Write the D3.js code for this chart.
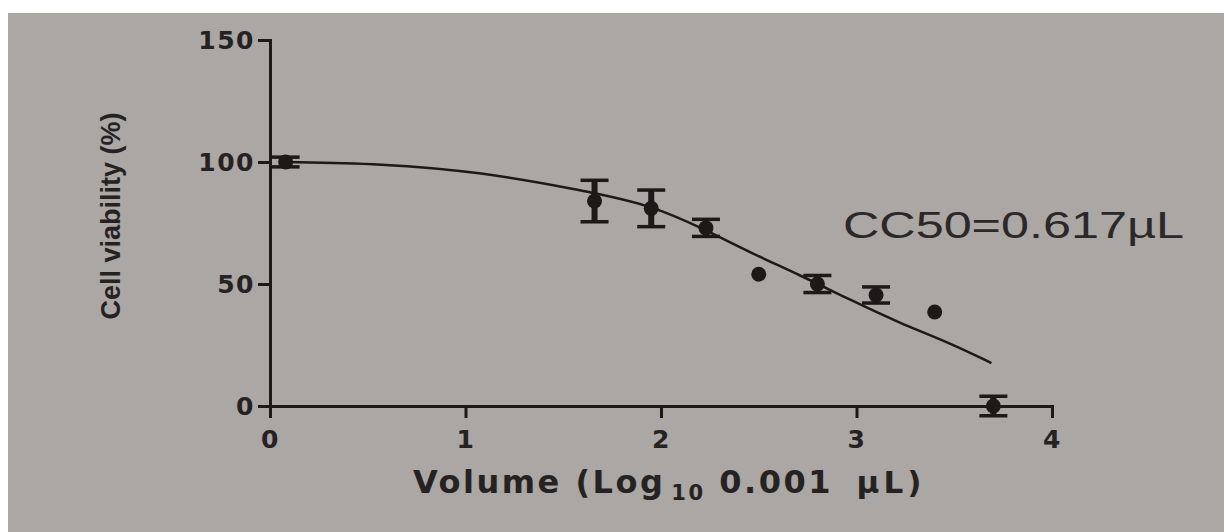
<!DOCTYPE html>
<html>
<head>
<meta charset="utf-8">
<script src="https://cdn.jsdelivr.net/npm/d3@7"></script>
<style>
  html, body { margin: 0; padding: 0; background: #ffffff; }
  svg { display: block; }
</style>
</head>
<body>
<script>
// measured points (log10 of volume in 0.001 uL units, viability %)
const volumeLog = [0.08, 1.66, 1.95, 2.23, 2.5, 2.8, 3.1, 3.4, 3.7];
const viability = [100, 84, 81, 73, 54, 50, 45.5, 38.5, 0];
const viabilitySd = [2, 8.5, 7.5, 3.5, 0, 3.5, 3.3, 0, 4];

// fitted curve
const fitX = [0.06, 0.57, 1.08, 1.59, 1.95, 2.23, 2.46, 2.71, 2.97, 3.22, 3.48, 3.69];
const fitY = [100, 99.4, 95.9, 88.5, 82.4, 72.1, 62.7, 53.7, 43.4, 34.0, 25.8, 17.6];

const xTicks = [0, 1, 2, 3, 4];
const yTicks = [0, 50, 100, 150];

const yLabel = "Cell viability (%)";
const xLabelParts = ["Volume (Log", "10", " 0.001 ", "\u00b5L)"];
const note = "CC50=0.617\u00b5L";

const width = 1224;
const height = 532;
const ink = "#1d1919";

const svg = d3.select("body")
  .append("svg")
  .attr("width", width)
  .attr("height", height);

// photo background with white border top/left
svg.append("rect")
  .attr("x", 8).attr("y", 13)
  .attr("width", width - 8).attr("height", height - 13)
  .attr("fill", "#aaa7a5");

const xScale = d3.scaleLinear().domain([0, 4]).range([270, 1052]);
const yScale = d3.scaleLinear().domain([0, 150]).range([406, 40]);

const xAxis = d3.axisBottom(xScale)
  .tickValues(xTicks)
  .tickFormat(d3.format("d"))
  .tickSize(12)
  .tickSizeOuter(12)
  .tickPadding(12);

const yAxis = d3.axisLeft(yScale)
  .tickValues(yTicks)
  .tickFormat(d3.format("d"))
  .tickSize(12)
  .tickSizeOuter(12)
  .tickPadding(3);

function styleAxis(g) {
  g.select(".domain").attr("stroke", ink).attr("stroke-width", 3);
  g.selectAll(".tick line").attr("stroke", ink).attr("stroke-width", 3);
  g.selectAll(".tick text")
    .attr("fill", "#262222")
    .style("font-family", "'DejaVu Sans', sans-serif")
    .style("font-weight", "bold")
    .style("font-size", "25px")
    .style("letter-spacing", "1.5px");
}

svg.append("g")
  .attr("id", "x-axis")
  .attr("transform", "translate(0," + yScale(0) + ")")
  .call(xAxis)
  .call(styleAxis);

svg.append("g")
  .attr("id", "y-axis")
  .attr("transform", "translate(" + xScale(0) + ",0)")
  .call(yAxis)
  .call(styleAxis);

// fitted curve
const fit = fitX.map((x, i) => [x, fitY[i]]);
const line = d3.line()
  .x((d) => xScale(d[0]))
  .y((d) => yScale(d[1]))
  .curve(d3.curveBasis);

svg.append("path")
  .datum(fit)
  .attr("d", line)
  .attr("fill", "none")
  .attr("stroke", ink)
  .attr("stroke-width", 2.5);

// points with error bars
const points = volumeLog.map((x, i) => ({ x: x, y: viability[i], sd: viabilitySd[i] }));
const capHalf = 14;

const bars = svg.append("g").attr("class", "error-bars")
  .selectAll("g")
  .data(points.filter((d) => d.sd > 0))
  .enter()
  .append("g")
  .attr("stroke", ink)
  .attr("stroke-width", 3.5);

bars.append("line")
  .attr("x1", (d) => xScale(d.x)).attr("x2", (d) => xScale(d.x))
  .attr("y1", (d) => yScale(d.y + d.sd)).attr("y2", (d) => yScale(d.y - d.sd))
  .attr("stroke-width", 6);
bars.append("line")
  .attr("x1", (d) => xScale(d.x) - capHalf).attr("x2", (d) => xScale(d.x) + capHalf)
  .attr("y1", (d) => yScale(d.y + d.sd)).attr("y2", (d) => yScale(d.y + d.sd));
bars.append("line")
  .attr("x1", (d) => xScale(d.x) - capHalf).attr("x2", (d) => xScale(d.x) + capHalf)
  .attr("y1", (d) => yScale(d.y - d.sd)).attr("y2", (d) => yScale(d.y - d.sd));

svg.append("g").attr("class", "points")
  .selectAll("circle")
  .data(points)
  .enter()
  .append("circle")
  .attr("cx", (d) => xScale(d.x))
  .attr("cy", (d) => yScale(d.y))
  .attr("r", 7.5)
  .attr("fill", ink);

// y label
svg.append("text")
  .attr("transform", "translate(120,216) rotate(-90)")
  .attr("text-anchor", "middle")
  .attr("fill", "#262222")
  .style("font-family", "'Liberation Sans', Arial, sans-serif")
  .style("font-weight", "bold")
  .style("font-size", "27px")
  .text(yLabel);

// x label
const xl = svg.append("text")
  .attr("x", 413)
  .attr("y", 493)
  .attr("fill", "#262222")
  .style("font-family", "'DejaVu Sans', sans-serif")
  .style("font-weight", "bold")
  .style("font-size", "32px")
  .style("letter-spacing", "2.5px");
xl.append("tspan").text(xLabelParts[0]);
xl.append("tspan")
  .attr("dx", 6).attr("dy", 7)
  .style("font-size", "21px")
  .text(xLabelParts[1]);
xl.append("tspan")
  .attr("dy", -7)
  .style("white-space", "pre")
  .text(xLabelParts[2]);
xl.append("tspan")
  .attr("dx", 10)
  .style("font-size", "31px")
  .style("letter-spacing", "4px")
  .text(xLabelParts[3]);

// CC50 note, glyphs stretched wide as in the print
svg.append("text")
  .attr("transform", "translate(843,238) scale(1.36,1)")
  .attr("fill", "#2c2828")
  .style("font-family", "'Liberation Sans', Arial, sans-serif")
  .style("font-size", "37px")
  .text(note);
</script>
</body>
</html>
